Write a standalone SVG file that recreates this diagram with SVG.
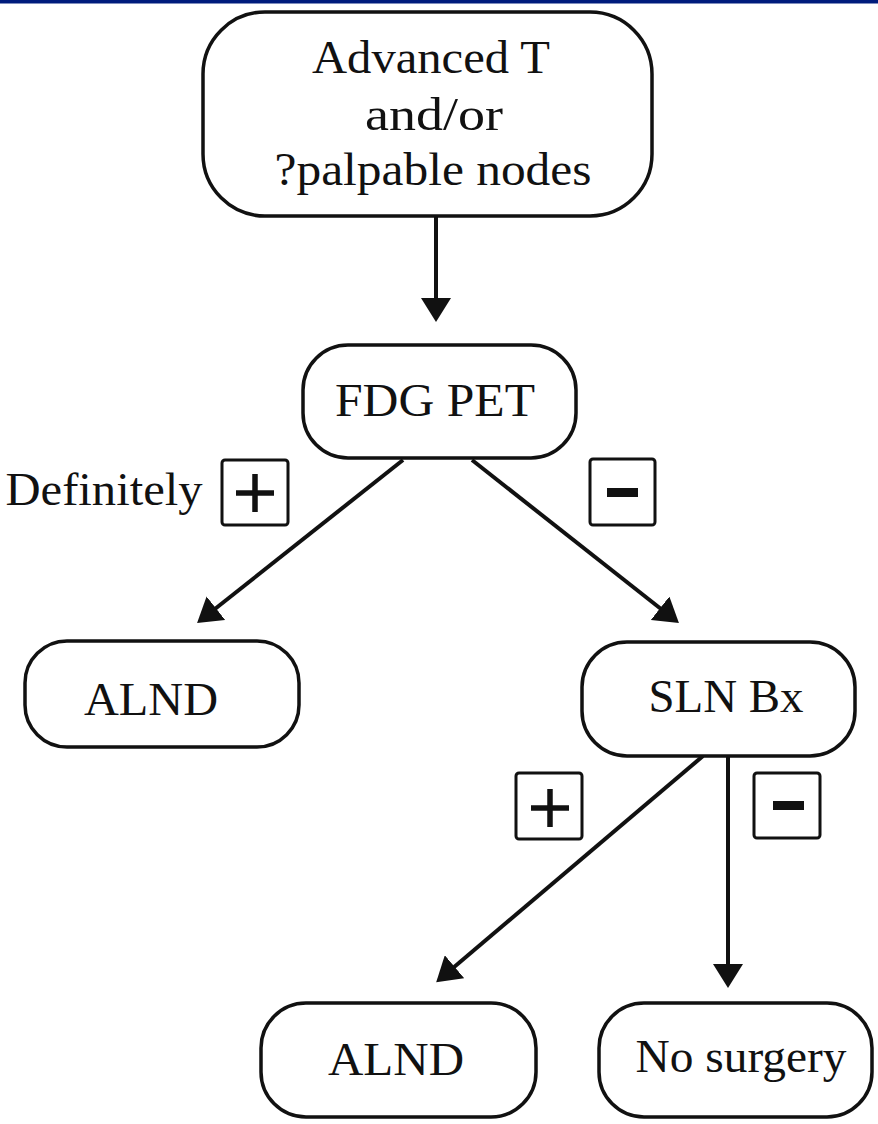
<svg xmlns="http://www.w3.org/2000/svg" width="878" height="1124" viewBox="0 0 878 1124">
<style>
.box{fill:#fff;stroke:#111;stroke-width:3.5}
.sign{fill:#fff;stroke:#111;stroke-width:3}
.t{font-family:"Liberation Serif","Times New Roman",serif;font-size:46px;fill:#111;text-anchor:middle}
.ln{stroke:#111;stroke-width:4;fill:none;marker-end:url(#ah)}
.bar{stroke:#111;stroke-width:5.5}
</style>
<defs>
<marker id="ah" viewBox="0 0 24 30" refX="19" refY="15" markerWidth="24" markerHeight="30" markerUnits="userSpaceOnUse" orient="auto">
<path d="M0,0 L24,15 L0,30 z" fill="#111"/>
</marker>
</defs>
<rect x="0" y="0" width="878" height="3.5" fill="#001c7c"/>
<g id="connectors">
<line class="ln" x1="436" y1="216" x2="436" y2="317"/>
<line class="ln" x1="403" y1="460" x2="201" y2="620"/>
<line class="ln" x1="472" y1="460" x2="675" y2="620"/>
<line class="ln" x1="703" y1="756" x2="440" y2="979"/>
<line class="ln" x1="728" y1="756" x2="728" y2="983"/>
</g>
<g id="node-advanced">
<rect class="box" x="203" y="12" width="449" height="204" rx="62"/>
<text class="t" x="431" y="73" textLength="238" lengthAdjust="spacingAndGlyphs">Advanced T</text>
<text class="t" x="434" y="130" textLength="138" lengthAdjust="spacingAndGlyphs">and/or</text>
<text class="t" x="433" y="185" textLength="317" lengthAdjust="spacingAndGlyphs">?palpable nodes</text>
</g>
<g id="node-fdgpet">
<rect class="box" x="303" y="345" width="273" height="113" rx="45"/>
<text class="t" x="435" y="416" textLength="200" lengthAdjust="spacingAndGlyphs">FDG PET</text>
</g>
<g id="label-definitely">
<text class="t" x="104" y="505" textLength="197" lengthAdjust="spacingAndGlyphs">Definitely</text>
<rect class="sign" x="222" y="460" width="66" height="65" rx="3"/>
<line class="bar" x1="236" y1="493" x2="274" y2="493"/>
<line class="bar" x1="255" y1="474" x2="255" y2="512"/>
</g>
<g id="label-minus1">
<rect class="sign" x="590" y="459" width="65" height="66" rx="3"/>
<rect x="607" y="488" width="31" height="9" fill="#111"/>
</g>
<g id="node-alnd1">
<rect class="box" x="25" y="641" width="274" height="106" rx="42"/>
<text class="t" x="151" y="715" textLength="134" lengthAdjust="spacingAndGlyphs">ALND</text>
</g>
<g id="node-slnbx">
<rect class="box" x="582" y="642" width="273" height="114" rx="45"/>
<text class="t" x="726" y="712" textLength="155" lengthAdjust="spacingAndGlyphs">SLN Bx</text>
</g>
<g id="label-plus2">
<rect class="sign" x="516" y="773" width="66" height="66" rx="3"/>
<line class="bar" x1="531" y1="808" x2="569" y2="808"/>
<line class="bar" x1="550" y1="789" x2="550" y2="827"/>
</g>
<g id="label-minus2">
<rect class="sign" x="754" y="773" width="66" height="65" rx="3"/>
<rect x="773" y="801" width="31" height="9" fill="#111"/>
</g>
<g id="node-alnd2">
<rect class="box" x="261" y="1003" width="275" height="114" rx="45"/>
<text class="t" x="396" y="1075" textLength="136" lengthAdjust="spacingAndGlyphs">ALND</text>
</g>
<g id="node-nosurgery">
<rect class="box" x="599" y="1003" width="273" height="114" rx="45"/>
<text class="t" x="741" y="1072" textLength="211" lengthAdjust="spacingAndGlyphs">No surgery</text>
</g>
</svg>
